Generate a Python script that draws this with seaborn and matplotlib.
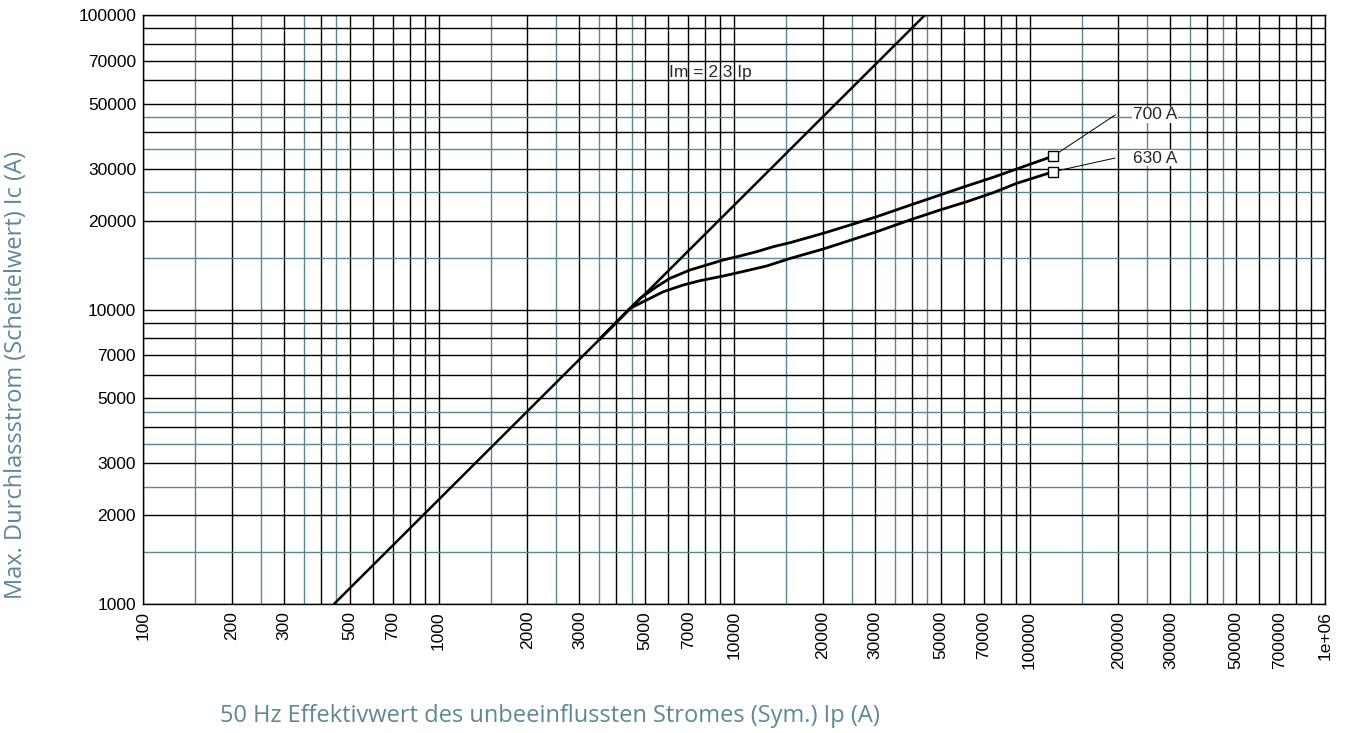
import numpy as np
import pandas as pd
import seaborn as sns
import matplotlib.pyplot as plt
import matplotlib.font_manager as fm
from matplotlib.ticker import FixedLocator, FixedFormatter, NullFormatter

# %% Data
# prospective short-circuit current Ip (A) and cut-off current Ic (A)
ip_700 = [3500, 4809, 5474, 6073, 7098, 8083, 9200, 10478, 11935, 13583,
          15469, 20060, 25330, 30400, 40450, 49780, 61310, 75440, 90480,
          120350]
ic_700 = [7910, 10915, 11954, 12762, 13620, 14163, 14729, 15196, 15716,
          16340, 16860, 18150, 19510, 20660, 22810, 24480, 26270, 28120,
          30000, 33200]
ip_630 = [3500, 4447, 5066, 5765, 6737, 7673, 9200, 11040, 12900, 15469,
          20060, 25330, 30400, 39410, 49780, 61310, 75440, 90480, 120350]
ic_630 = [7910, 10094, 10772, 11493, 12112, 12527, 12995, 13547, 14053,
          14903, 16050, 17310, 18370, 20140, 21770, 23230, 24930, 26820,
          29370]
# Im = 2,3 Ip straight line
ip_line = [443, 44300]
ic_line = [1000, 100000]
# leader end points for the rating labels
lead_x = 195000
lead_y = {"700 A": 45760, "630 A": 32690}

black_x = [m * 10 ** e for e in range(2, 6) for m in range(1, 10)] + [1e6]
teal_x = [m * 10 ** e for e in range(2, 6) for m in (1.5, 2.5, 3.5, 4.5)]
black_y = [m * 10 ** e for e in range(3, 5) for m in range(1, 10)] + [1e5]
teal_y = [m * 10 ** e for e in range(3, 5) for m in (1.5, 2.5, 3.5, 4.5)]
shown = (1, 2, 3, 5, 7)

def tick_text(v):
    if v >= 1e6:
        return "1e+06"
    m = round(v / 10 ** int(np.floor(np.log10(v))))
    return f"{int(v)}" if m in shown else ""

df = pd.concat([
    pd.DataFrame({"Ip": ip_700, "Ic": ic_700, "rating": "700 A"}),
    pd.DataFrame({"Ip": ip_630, "Ic": ic_630, "rating": "630 A"}),
])

# %% Figure
sns.set_style("white")
# keep the regular Liberation Sans, not the Narrow cut
fm.fontManager.ttflist = [f for f in fm.fontManager.ttflist
                          if "Narrow" not in f.name and "Narrow" not in f.fname]
plt.rcParams["font.family"] = ["Liberation Sans", "DejaVu Sans"]
teal = "#5a8792"
label_col = "#5f8796"

fig = plt.figure(figsize=(13.47, 7.33), dpi=100)
ax = fig.add_axes([143 / 1347, 1 - 604 / 733, 1182 / 1347, 589 / 733])
ax.set_xscale("log")
ax.set_yscale("log")
ax.set_xlim(100, 1e6)
ax.set_ylim(1000, 100000)

ax.xaxis.set_major_locator(FixedLocator(black_x))
ax.xaxis.set_major_formatter(FixedFormatter([tick_text(v) for v in black_x]))
ax.xaxis.set_minor_locator(FixedLocator(teal_x))
ax.xaxis.set_minor_formatter(NullFormatter())
ax.yaxis.set_major_locator(FixedLocator(black_y))
ax.yaxis.set_major_formatter(FixedFormatter([tick_text(v) for v in black_y]))
ax.yaxis.set_minor_locator(FixedLocator(teal_y))
ax.yaxis.set_minor_formatter(NullFormatter())
ax.grid(which="major", color="black", linewidth=1.0)
ax.grid(which="minor", color=teal, linewidth=1.0)
ax.set_axisbelow(True)
ax.tick_params(which="both", length=0, labelsize=12.5, colors="black", pad=5)
ax.tick_params(axis="x", labelrotation=90)
for s in ax.spines.values():
    s.set_color("black")
    s.set_linewidth(1.0)

ax.plot(ip_line, ic_line, color="black", linewidth=1.8)
sns.lineplot(data=df, x="Ip", y="Ic", hue="rating", units="rating",
             estimator=None, sort=False, palette=["black", "black"],
             linewidth=2.0, legend=False, ax=ax)

ax.plot([ip_700[-1], ip_630[-1]], [ic_700[-1], ic_630[-1]], "s",
        markersize=7, markerfacecolor="white", markeredgecolor="black",
        markeredgewidth=1.0, zorder=5)
for name, xs, ys in (("700 A", ip_700, ic_700), ("630 A", ip_630, ic_630)):
    ax.plot([xs[-1], lead_x], [ys[-1], lead_y[name]], color="black",
            linewidth=0.7, zorder=4)
    ax.text(lead_x * 1.15, lead_y[name], name, fontsize=12.5, va="center",
            ha="left", bbox=dict(facecolor="white", edgecolor="none", pad=0.5))

ax.text(6030, 63600, "Im = 2,3 Ip", fontsize=12.5, va="center", ha="left")

ax.set_xlabel("")
ax.set_ylabel("")
fig.text(16 / 1347, 1 - 375 / 733, "Max. Durchlassstrom (Scheitelwert) Ic (A)",
         rotation=90, ha="center", va="center", fontsize=17, color=label_col,
         family=["Open Sans", "DejaVu Sans"])
fig.text(220 / 1347, 1 - 716 / 733,
         "50 Hz Effektivwert des unbeeinflussten Stromes (Sym.) Ip (A)",
         ha="left", va="center", fontsize=17, color=label_col,
         family=["Open Sans", "DejaVu Sans"])

plt.savefig("out.png", dpi=100)
plt.close()
